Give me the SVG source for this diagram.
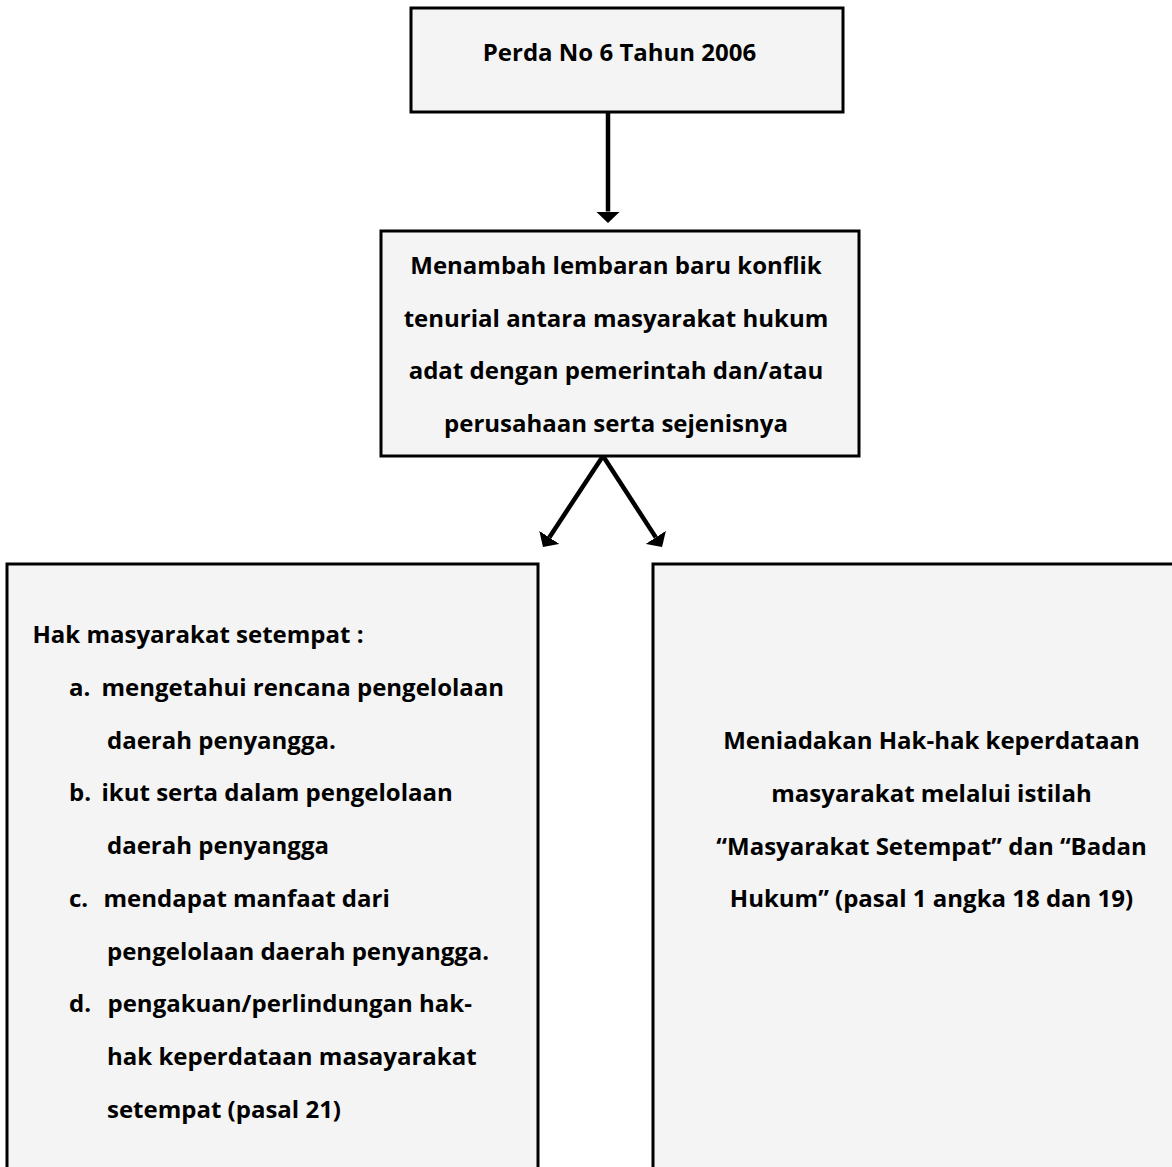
<svg xmlns="http://www.w3.org/2000/svg" width="1172" height="1167" viewBox="0 0 1172 1167">
<style>
.box{fill:#f4f4f4;stroke:#000;stroke-width:3}
.t{font-family:"Open Sans","Noto Sans","Liberation Sans",sans-serif;font-weight:700;font-size:24px;fill:#000}
.c{text-anchor:middle}
.conn{stroke:#000;stroke-width:4.5;fill:none}
</style>
<defs>
<marker id="ah" markerUnits="userSpaceOnUse" markerWidth="12" markerHeight="24" viewBox="0 0 12 24" refX="0" refY="12" orient="auto">
<path d="M0,0 L11.5,12 L0,24 z" fill="#000"/>
</marker>
</defs>
<rect width="1172" height="1167" fill="#fff"/>
<g id="connectors">
<line class="conn" x1="608" y1="112" x2="608" y2="211.5" marker-end="url(#ah)"/>
<line class="conn" x1="603" y1="456" x2="549.3" y2="537.4" marker-end="url(#ah)"/>
<line class="conn" x1="603" y1="456" x2="655.8" y2="537.4" marker-end="url(#ah)"/>
</g>
<g id="node-perda">
<rect class="box" x="411" y="8" width="432" height="104"/>
<text class="t c" x="619.5" y="61">Perda No 6 Tahun 2006</text>
</g>
<g id="node-konflik">
<rect class="box" x="381" y="231" width="478" height="225"/>
<text class="t c" x="616" y="274">Menambah lembaran baru konflik</text>
<text class="t c" x="616" y="326.5">tenurial antara masyarakat hukum</text>
<text class="t c" x="616" y="379">adat dengan pemerintah dan/atau</text>
<text class="t c" x="616" y="431.5">perusahaan serta sejenisnya</text>
</g>
<g id="node-hak">
<rect class="box" x="7" y="564" width="531" height="620"/>
<text class="t" x="32.5" y="643">Hak masyarakat setempat :</text>
<text class="t" x="69" y="696">a.</text>
<text class="t" x="101.5" y="696">mengetahui rencana pengelolaan</text>
<text class="t" x="107" y="748.5">daerah penyangga.</text>
<text class="t" x="69" y="801">b.</text>
<text class="t" x="101.5" y="801">ikut serta dalam pengelolaan</text>
<text class="t" x="107" y="854">daerah penyangga</text>
<text class="t" x="69" y="907">c.</text>
<text class="t" x="103.5" y="907">mendapat manfaat dari</text>
<text class="t" x="107" y="959.5">pengelolaan daerah penyangga.</text>
<text class="t" x="69" y="1012">d.</text>
<text class="t" x="107.5" y="1012">pengakuan/perlindungan hak-</text>
<text class="t" x="107" y="1065">hak keperdataan masayarakat</text>
<text class="t" x="107" y="1118">setempat (pasal 21)</text>
</g>
<g id="node-meniadakan">
<rect class="box" x="653" y="564" width="560" height="620"/>
<text class="t c" x="931.5" y="749">Meniadakan Hak-hak keperdataan</text>
<text class="t c" x="931.5" y="802">masyarakat melalui istilah</text>
<text class="t c" x="931.5" y="855">“Masyarakat Setempat” dan “Badan</text>
<text class="t c" x="931.5" y="907">Hukum” (pasal 1 angka 18 dan 19)</text>
</g>
</svg>
